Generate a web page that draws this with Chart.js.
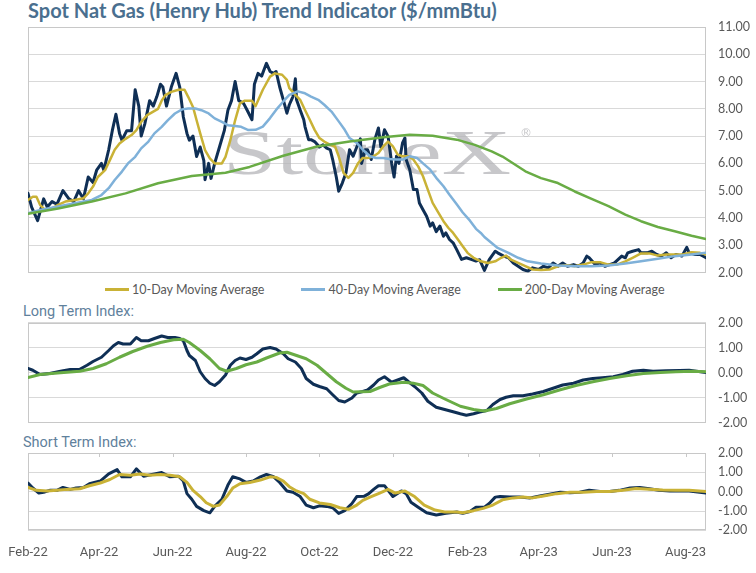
<!doctype html>
<html>
<head>
<meta charset="utf-8">
<title>Spot Nat Gas (Henry Hub) Trend Indicator</title>
<script src="https://cdn.jsdelivr.net/npm/chart.js@4"></script>
<style>
html,body{margin:0;padding:0;background:#fff}
#wrap{position:relative;width:756px;height:573px;overflow:hidden}
.box{position:absolute;left:0;width:756px}
#title{position:absolute;left:28px;top:-2px;font:bold 20px Lato,sans-serif;color:#4a6f8f;white-space:nowrap}
.sub{position:absolute;left:23px;font:14.5px Roboto,sans-serif;color:#5f819c;white-space:nowrap}
#legend{position:absolute;left:105px;top:282px;display:flex;gap:37px;font:12.5px Lato,sans-serif;color:#595959}
#legend span{display:flex;align-items:center;white-space:nowrap}
#legend i{display:inline-block;width:24px;height:3px;margin-right:3px}
</style>
</head>
<body>
<div id="wrap">
  <div id="title">Spot Nat Gas (Henry Hub) Trend Indicator ($/mmBtu)</div>
  <div class="box" style="top:0;height:280px"><canvas id="price"></canvas></div>
  <div id="legend"></div>
  <div class="sub" style="top:303px">Long Term Index:</div>
  <div class="box" style="top:315px;height:115px"><canvas id="longTerm"></canvas></div>
  <div class="sub" style="top:434px">Short Term Index:</div>
  <div class="box" style="top:440px;height:133px"><canvas id="shortTerm"></canvas></div>
</div>
<script>
// x = days since 1 Feb 2022
const tickDays = [0, 59, 120, 181, 242, 303, 365, 424, 485, 546];
const tickLabels = ['Feb-22', 'Apr-22', 'Jun-22', 'Aug-22', 'Oct-22', 'Dec-22', 'Feb-23', 'Apr-23', 'Jun-23', 'Aug-23'];
const lastDay = 563;

const spotPrice = [[0,4.9],[3,4.4],[8,3.9],[13,4.7],[16,4.4],[20,4.6],[24,4.5],[29,5.0],[34,4.7],[38,4.6],[42,5.0],[46,4.7],[50,5.5],[54,5.3],[57,5.75],[61,6.0],[63,5.75],[67,6.5],[70,7.2],[73,7.8],[76,7.1],[78,6.85],[82,7.2],[86,7.2],[89,8.7],[92,8.1],[94,7.0],[97,7.45],[101,8.3],[104,8.1],[107,8.45],[110,8.9],[112,8.8],[115,8.1],[119,8.8],[123,9.3],[126,8.8],[129,7.7],[132,7.1],[134,6.85],[137,7.0],[140,6.25],[143,6.6],[146,6.1],[147,5.4],[150,6.0],[152,5.45],[155,6.0],[159,6.6],[163,7.2],[166,7.95],[169,8.3],[172,9.0],[175,8.3],[179,8.2],[182,7.95],[186,7.6],[188,8.9],[191,9.3],[194,9.2],[198,9.67],[201,9.37],[204,9.3],[206,9.37],[209,8.8],[212,8.33],[215,7.84],[217,8.15],[220,8.45],[222,9.1],[223,8.33],[226,7.96],[229,7.6],[230,7.35],[233,6.87],[235,6.87],[238,6.8],[242,6.6],[245,6.68],[248,6.56],[251,6.5],[253,6.14],[256,5.5],[258,4.98],[261,5.28],[264,5.65],[267,6.5],[270,6.26],[273,6.6],[276,6.9],[277,6.0],[280,6.5],[282,6.5],[285,6.14],[288,6.87],[291,7.3],[293,6.6],[296,7.23],[299,6.99],[302,6.0],[304,5.5],[306,6.26],[308,6.0],[311,6.75],[313,6.93],[314,6.14],[317,5.77],[320,5.04],[323,5.04],[325,4.55],[328,4.3],[331,4.06],[334,3.7],[336,3.82],[339,3.5],[342,3.7],[345,3.33],[347,3.45],[350,3.21],[353,3.09],[356,2.84],[360,2.48],[364,2.54],[368,2.48],[372,2.42],[375,2.47],[379,2.08],[383,2.47],[388,2.78],[390,2.72],[395,2.6],[399,2.54],[403,2.35],[407,2.23],[411,2.11],[415,2.05],[419,2.17],[424,2.11],[428,2.23],[432,2.17],[436,2.35],[440,2.23],[444,2.35],[448,2.23],[453,2.29],[457,2.23],[461,2.35],[464,2.6],[466,2.54],[471,2.29],[475,2.35],[479,2.23],[483,2.29],[487,2.35],[493,2.6],[496,2.54],[498,2.72],[502,2.78],[507,2.84],[509,2.72],[514,2.72],[518,2.78],[522,2.66],[526,2.6],[530,2.72],[534,2.54],[538,2.66],[543,2.6],[547,2.92],[549,2.72],[554,2.66],[558,2.66],[563,2.54]];

const ma10 = [[0,4.66],[4,4.78],[7,4.78],[10,4.48],[14,4.3],[20,4.35],[25,4.48],[31,4.6],[39,4.66],[46,4.72],[50,4.9],[54,5.15],[58,5.5],[64,5.75],[68,6.12],[72,6.5],[76,6.73],[81,6.9],[86,7.04],[90,7.22],[94,7.52],[99,7.77],[104,7.9],[108,8.0],[111,8.3],[114,8.5],[119,8.62],[125,8.7],[130,8.7],[133,8.44],[137,8.07],[140,7.58],[143,7.1],[147,6.49],[151,6.18],[155,6.0],[161,6.0],[164,6.24],[168,6.85],[172,7.58],[176,8.2],[180,8.3],[186,8.3],[189,8.1],[195,8.7],[201,9.18],[205,9.3],[211,9.25],[215,9.06],[217,8.76],[222,8.51],[226,8.33],[230,7.96],[234,7.6],[238,7.23],[242,6.93],[246,6.8],[251,6.68],[255,6.62],[258,6.26],[262,5.65],[266,5.47],[270,5.65],[274,6.0],[278,6.2],[282,6.2],[287,6.26],[291,6.38],[295,6.62],[299,6.8],[303,6.62],[307,6.32],[311,6.26],[316,6.26],[320,6.14],[324,5.89],[328,5.53],[332,5.04],[336,4.55],[341,4.18],[345,3.88],[349,3.64],[353,3.45],[357,3.21],[361,2.96],[365,2.72],[370,2.54],[376,2.41],[382,2.35],[388,2.41],[393,2.54],[397,2.62],[401,2.47],[407,2.35],[413,2.23],[419,2.11],[426,2.09],[433,2.11],[440,2.23],[447,2.27],[454,2.23],[461,2.29],[468,2.38],[475,2.38],[482,2.29],[489,2.29],[496,2.41],[502,2.54],[509,2.7],[516,2.7],[523,2.62],[530,2.66],[537,2.66],[544,2.66],[551,2.74],[558,2.72],[563,2.66]];

const ma40 = [[0,4.17],[11,4.3],[25,4.42],[39,4.54],[53,4.66],[61,4.84],[67,5.09],[72,5.39],[78,5.7],[83,6.0],[89,6.24],[94,6.55],[100,6.8],[105,7.1],[111,7.34],[116,7.58],[122,7.83],[128,7.98],[133,8.01],[139,8.01],[144,7.95],[150,7.83],[155,7.65],[161,7.52],[166,7.4],[172,7.37],[177,7.34],[183,7.22],[189,7.23],[195,7.35],[201,7.66],[206,7.96],[212,8.27],[217,8.51],[224,8.64],[230,8.57],[235,8.45],[241,8.33],[246,8.15],[252,7.9],[258,7.54],[263,7.23],[267,6.93],[273,6.75],[278,6.5],[284,6.26],[289,6.2],[295,6.2],[300,6.16],[306,6.14],[311,6.14],[317,6.26],[323,6.2],[328,6.0],[334,5.77],[339,5.47],[345,5.16],[350,4.85],[356,4.5],[361,4.2],[367,3.9],[372,3.6],[376,3.45],[379,3.3],[385,3.08],[390,2.9],[399,2.72],[407,2.54],[415,2.41],[426,2.33],[440,2.26],[454,2.23],[468,2.23],[482,2.26],[496,2.33],[509,2.41],[523,2.5],[537,2.6],[551,2.66],[563,2.72]];

const ma200 = [[0,4.15],[25,4.35],[53,4.6],[81,4.9],[108,5.27],[136,5.54],[164,5.66],[184,5.87],[212,6.28],[240,6.62],[267,6.8],[295,6.96],[317,7.05],[336,7.01],[356,6.87],[371,6.68],[385,6.44],[394,6.25],[413,5.71],[426,5.46],[440,5.28],[454,4.97],[468,4.7],[482,4.43],[496,4.12],[509,3.88],[523,3.67],[537,3.51],[551,3.35],[563,3.23]];

const longIndex = [[0,0.16],[4,0.09],[10,-0.08],[18,-0.04],[27,0.05],[35,0.12],[43,0.13],[49,0.29],[54,0.44],[61,0.61],[67,0.88],[71,1.07],[75,1.2],[79,1.14],[85,1.14],[90,1.4],[94,1.27],[100,1.27],[105,1.36],[111,1.46],[116,1.4],[122,1.4],[126,1.36],[129,1.27],[132,0.88],[134,0.68],[139,0.48],[143,0.03],[147,-0.24],[151,-0.43],[155,-0.52],[159,-0.37],[164,-0.1],[168,0.29],[172,0.48],[176,0.58],[181,0.52],[186,0.61],[190,0.75],[195,0.94],[201,1.0],[206,0.94],[212,0.75],[216,0.55],[222,0.42],[227,0.16],[231,-0.24],[237,-0.47],[242,-0.56],[248,-0.65],[253,-0.89],[258,-1.12],[263,-1.18],[269,-1.02],[273,-0.82],[278,-0.76],[282,-0.7],[287,-0.5],[291,-0.3],[296,-0.17],[302,-0.39],[307,-0.3],[312,-0.21],[316,-0.37],[321,-0.56],[327,-0.82],[332,-1.15],[339,-1.39],[346,-1.48],[353,-1.57],[359,-1.65],[364,-1.71],[370,-1.65],[375,-1.58],[381,-1.52],[386,-1.28],[392,-1.08],[397,-0.99],[403,-0.93],[411,-0.93],[419,-0.86],[428,-0.76],[436,-0.63],[444,-0.5],[453,-0.43],[461,-0.3],[469,-0.24],[477,-0.21],[486,-0.17],[494,-0.08],[502,0.05],[511,0.09],[519,0.05],[530,0.07],[541,0.08],[549,0.09],[563,0.0]];

const longSignal = [[0,-0.2],[10,-0.08],[27,-0.01],[43,0.05],[54,0.16],[65,0.35],[76,0.61],[87,0.84],[99,1.05],[110,1.2],[121,1.31],[129,1.33],[134,1.2],[143,0.88],[151,0.55],[159,0.16],[165,0.05],[173,0.16],[181,0.31],[190,0.42],[198,0.58],[209,0.78],[215,0.81],[223,0.68],[231,0.55],[240,0.29],[248,-0.04],[256,-0.37],[264,-0.63],[270,-0.78],[284,-0.76],[292,-0.6],[300,-0.46],[312,-0.39],[320,-0.43],[328,-0.52],[336,-0.82],[347,-1.08],[359,-1.35],[370,-1.48],[379,-1.54],[389,-1.44],[400,-1.25],[414,-1.06],[428,-0.89],[442,-0.69],[455,-0.52],[469,-0.37],[483,-0.24],[497,-0.13],[511,-0.04],[525,0.0],[538,0.03],[552,0.05],[563,0.03]];

const shortIndex = [[0,0.45],[4,0.19],[9,-0.07],[13,-0.03],[18,0.07],[24,0.07],[29,0.22],[35,0.12],[40,0.19],[46,0.22],[51,0.41],[60,0.55],[67,0.92],[74,1.14],[78,0.77],[85,0.77],[90,1.18],[96,0.8],[103,0.89],[111,0.99],[118,0.77],[125,0.8],[129,0.55],[132,-0.1],[136,-0.39],[140,-0.76],[146,-0.98],[151,-1.09],[155,-0.76],[161,-0.39],[166,0.34],[170,0.77],[176,0.66],[181,0.48],[187,0.55],[193,0.77],[198,0.89],[204,0.77],[209,0.48],[215,0.04],[220,-0.03],[226,-0.25],[231,-0.69],[237,-0.83],[242,-0.73],[248,-0.76],[253,-0.83],[258,-1.12],[263,-0.98],[269,-0.61],[273,-0.25],[279,-0.24],[283,-0.1],[287,0.12],[291,0.31],[296,0.31],[303,-0.25],[310,0.04],[314,-0.1],[318,-0.54],[324,-0.8],[331,-1.09],[339,-1.2],[347,-1.12],[356,-1.05],[361,-1.12],[367,-1.02],[372,-0.8],[379,-0.8],[383,-0.61],[388,-0.28],[392,-0.25],[400,-0.28],[408,-0.28],[417,-0.32],[425,-0.22],[433,-0.13],[442,-0.03],[450,-0.06],[458,-0.03],[466,0.07],[475,0.01],[483,0.01],[491,0.07],[500,0.19],[508,0.22],[516,0.15],[524,0.07],[533,0.04],[541,0.04],[549,0.04],[563,-0.07]];

const shortSignal = [[0,0.22],[7,0.07],[16,0.04],[24,0.07],[32,0.12],[43,0.15],[51,0.31],[60,0.45],[68,0.63],[76,0.89],[85,0.85],[93,0.92],[101,0.85],[110,0.89],[118,0.85],[126,0.77],[132,0.48],[137,0.07],[143,-0.25],[148,-0.57],[154,-0.76],[159,-0.69],[165,-0.25],[170,0.19],[176,0.41],[184,0.48],[193,0.6],[201,0.77],[206,0.74],[212,0.55],[217,0.26],[223,0.04],[229,-0.1],[234,-0.39],[242,-0.58],[251,-0.66],[259,-0.83],[266,-0.91],[273,-0.69],[278,-0.45],[284,-0.28],[292,-0.07],[299,0.12],[305,-0.07],[313,0.04],[321,-0.25],[329,-0.69],[338,-0.95],[346,-1.05],[356,-1.05],[361,-1.09],[370,-0.98],[378,-0.86],[386,-0.69],[394,-0.42],[403,-0.32],[411,-0.28],[419,-0.32],[428,-0.22],[439,-0.1],[450,-0.03],[461,-0.03],[472,0.01],[483,0.01],[494,0.07],[505,0.16],[516,0.13],[527,0.09],[538,0.07],[549,0.07],[563,0.01]];

const NAVY = '#0f2f55', GOLD = '#c9b236', BLUE = '#7fb1d9', GREEN = '#69ac45';

const pts = arr => arr.map(p => ({ x: p[0], y: p[1] }));
const line = (label, data, color, width) => ({ label, data: pts(data), borderColor: color, backgroundColor: color, borderWidth: width, fill: false });

// light frame round the plot area
const frame = {
  id: 'frame',
  beforeDatasetsDraw(chart) {
    const { ctx, chartArea: a } = chart;
    ctx.save();
    ctx.strokeStyle = '#c8c8c8';
    ctx.lineWidth = 1;
    ctx.strokeRect(Math.round(a.left) + 0.5, Math.round(a.top) + 0.5, Math.round(a.width) - 1, Math.round(a.height) - 1);
    ctx.restore();
  }
};

// wide grey serif logo behind the lines
const watermark = {
  id: 'watermark',
  beforeDatasetsDraw(chart) {
    const { ctx, chartArea: a } = chart;
    const cx = (a.left + a.right) / 2;
    ctx.save();
    ctx.fillStyle = 'rgba(178,178,182,0.72)';
    ctx.translate(cx, 174);
    ctx.scale(1.5, 1);
    ctx.font = '64px "Liberation Serif", "DejaVu Serif", serif';
    ctx.textAlign = 'center';
    ctx.textBaseline = 'alphabetic';
    ctx.fillText('StoneX', 0, 0);
    ctx.restore();
    ctx.save();
    ctx.fillStyle = 'rgba(178,178,182,0.72)';
    ctx.font = '12px "DejaVu Sans", sans-serif';
    ctx.textAlign = 'center';
    ctx.fillText('\u00AE', cx + 159, 137);
    ctx.restore();
  }
};

// small tick marks hanging from the top edge of the short term panel
const topTicks = {
  id: 'topTicks',
  afterDatasetsDraw(chart) {
    const { ctx, chartArea: a, scales } = chart;
    ctx.save();
    ctx.strokeStyle = '#c8c8c8';
    ctx.lineWidth = 1;
    tickDays.slice(1).forEach(d => {
      const x = Math.round(scales.x.getPixelForValue(d)) + 0.5;
      ctx.beginPath();
      ctx.moveTo(x, a.top);
      ctx.lineTo(x, a.top + 4);
      ctx.stroke();
    });
    ctx.restore();
  }
};

function panel(id, datasets, yMin, yMax, pad, showX, extra) {
  return new Chart(document.getElementById(id), {
    type: 'line',
    data: { datasets },
    options: {
      responsive: true,
      maintainAspectRatio: false,
      animation: false,
      layout: { padding: pad },
      plugins: { legend: { display: false }, tooltip: { enabled: false } },
      elements: {
        point: { radius: 0 },
        line: { tension: 0, borderJoinStyle: 'round', borderCapStyle: 'round' }
      },
      scales: {
        x: {
          type: 'linear', min: 0, max: lastDay, display: showX,
          grid: { display: false }, border: { display: false },
          afterBuildTicks: s => { s.ticks = tickDays.map(v => ({ value: v })); },
          ticks: {
            padding: 7, maxRotation: 0, autoSkip: false, color: '#595959',
            font: { family: 'Roboto', size: 13 },
            callback: v => tickLabels[tickDays.indexOf(v)]
          }
        },
        y: {
          position: 'right', min: yMin, max: yMax,
          afterFit: s => { s.width = 50; },
          // invisible tick marks push the labels out instead of ticks.padding,
          // which would also pad the plot area top and bottom
          grid: { color: '#d9d9d9', drawTicks: true, tickLength: 12, tickColor: 'rgba(0,0,0,0)' },
          border: { display: false },
          ticks: {
            stepSize: 1, padding: 0, autoSkip: false, color: '#595959',
            font: { family: 'Lato', size: 12.5 },
            callback: v => v.toFixed(2)
          }
        }
      }
    },
    plugins: [frame].concat(extra || [])
  });
}

// first dataset is drawn on top, so the spot price goes last
const priceSeries = [
  line('200-Day Moving Average', ma200, GREEN, 2.5),
  line('40-Day Moving Average', ma40, BLUE, 2.5),
  line('10-Day Moving Average', ma10, GOLD, 2.5),
  line('Spot Price', spotPrice, NAVY, 3)
];
panel('price', priceSeries, 2, 11, { top: 27, bottom: 7, left: 28, right: 0 }, false, [watermark]);

panel('longTerm', [
  line('Long Term Signal', longSignal, GREEN, 3),
  line('Long Term Index', longIndex, NAVY, 3)
], -2, 2, { top: 7, bottom: 7, left: 28, right: 0 }, false);

panel('shortTerm', [
  line('Short Term Signal', shortSignal, GOLD, 3),
  line('Short Term Index', shortIndex, NAVY, 3)
], -2, 2, { top: 13, bottom: 5, left: 28, right: 0 }, true, [topTicks]);

// legend for the moving averages (spot price has no entry)
const legend = document.getElementById('legend');
priceSeries.slice(0, 3).reverse().forEach(ds => {
  const item = document.createElement('span');
  item.innerHTML = '<i style="background:' + ds.borderColor + '"></i>' + ds.label;
  legend.appendChild(item);
});
</script>
</body>
</html>
